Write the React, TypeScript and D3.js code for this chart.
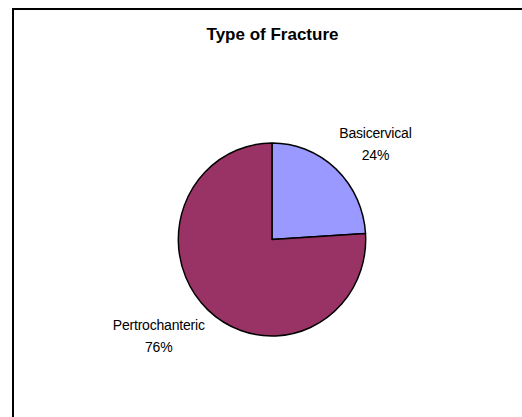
import React, { useEffect, useRef } from "react";
import * as d3 from "d3";

const categories: string[] = ["Basicervical", "Pertrochanteric"];
const shares: number[] = [24, 76];
const sliceColors: string[] = ["#9999FF", "#993366"];
const chartTitle = "Type of Fracture";

const W = 522;
const H = 417;

export default function App() {
  const ref = useRef<SVGSVGElement | null>(null);

  useEffect(() => {
    const svg = d3.select(ref.current);
    svg.selectAll("*").remove();

    // chart frame (runs off the right and bottom edges)
    svg
      .append("rect")
      .attr("x", 13)
      .attr("y", 9)
      .attr("width", W)
      .attr("height", H)
      .attr("fill", "#fff")
      .attr("stroke", "#000")
      .attr("stroke-width", 2);

    svg
      .append("text")
      .attr("x", 272.5)
      .attr("y", 40.2)
      .attr("text-anchor", "middle")
      .attr("font-family", "Arial, 'Liberation Sans', sans-serif")
      .attr("font-weight", "bold")
      .attr("font-size", 17)
      .attr("fill", "#000")
      .text(chartTitle);

    const cx = 272;
    const cy = 239.5;
    const r = 96.5;
    const sx = 0.971;

    const data = categories.map((c, i) => ({ name: c, value: shares[i], color: sliceColors[i] }));
    const pie = d3
      .pie<{ name: string; value: number; color: string }>()
      .sort(null)
      .value((d) => d.value);
    const arcs = pie(data);
    const arc = d3
      .arc<d3.PieArcDatum<{ name: string; value: number; color: string }>>()
      .innerRadius(0)
      .outerRadius(r);

    const g = svg.append("g").attr("transform", `translate(${cx},${cy}) scale(${sx},1)`);
    g.selectAll("path")
      .data(arcs)
      .join("path")
      .attr("d", (d) => arc(d) as string)
      .attr("fill", (d) => d.data.color)
      .attr("stroke", "#000")
      .attr("stroke-width", 1.5)
      .attr("stroke-linejoin", "round");

    // data labels: name on the first line, percentage below
    const total = d3.sum(shares);
    arcs.forEach((d) => {
      const mid = (d.startAngle + d.endAngle) / 2;
      const rl = r * 1.08;
      const px = Math.sin(mid) * rl * sx;
      const py = -Math.cos(mid) * rl;
      const t = svg
        .append("text")
        .attr("text-anchor", "middle")
        .attr("font-family", "Arial, 'Liberation Sans', sans-serif")
        .attr("font-size", 14)
        .attr("letter-spacing", -0.2)
        .attr("fill", "#000");
      const nameLine = t.append("tspan").attr("x", 0).text(d.data.name);
      t.append("tspan")
        .attr("x", 0)
        .attr("dy", 21.6)
        .text(`${Math.round((d.data.value / total) * 100)}%`);
      const bw = (nameLine.node() as SVGTSpanElement).getComputedTextLength();
      const bx = cx + px + Math.sign(px) * (bw / 2 - 2);
      const by = cy + py + Math.sign(py) * 20;
      t.attr("x", bx).attr("y", by - 5.3);
      t.selectAll("tspan").attr("x", bx);
    });
  }, []);

  return (
    <div style={{ position: "absolute", left: 0, top: 0 }}>
      <svg ref={ref} width={W} height={H} style={{ display: "block", background: "#fff" }} />
    </div>
  );
}
